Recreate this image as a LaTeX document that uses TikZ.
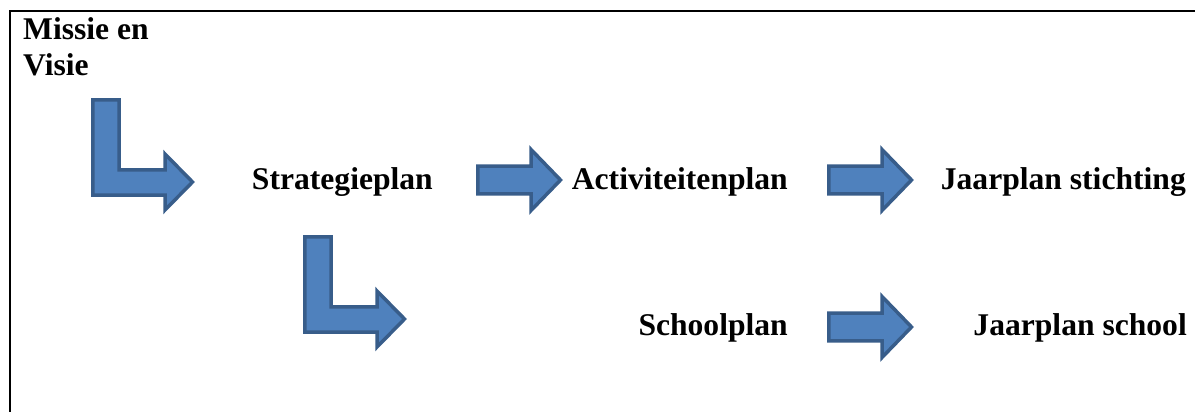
\documentclass[tikz,border=0pt]{standalone}
\usepackage{fontspec}
\setmainfont{Liberation Serif}
\definecolor{arrowfill}{HTML}{4F81BD}
\definecolor{arrowline}{HTML}{385D8A}
\tikzset{
	blockarrow/.style={fill=arrowfill, draw=arrowline, line width=3.5pt, line join=miter},
	plantext/.style={inner sep=0pt, font=\fontsize{31.6}{36}\selectfont\bfseries},
	rightarrow/.pic={\draw[blockarrow] (1.8,-13.8) -- (55,-13.8) -- (55,-30.5) -- (84.5,0) -- (55,30.5) -- (55,13.8) -- (1.8,13.8) -- cycle;},
	bentarrow/.pic={\draw[blockarrow] (1.8,1.8) -- (28.2,1.8) -- (28.2,71.8) -- (74,71.8) -- (74,56) -- (101.5,84) -- (74,112) -- (74,97.2) -- (1.8,97.2) -- cycle;}
}
\begin{document}
\begin{tikzpicture}[x=1pt, y=-1pt]
				\useasboundingbox (0,0) rectangle (1195,412);
				\fill[white] (0,0) rectangle (1195,412);
				\draw[line width=2.2pt] (10,412) -- (10,11) -- (1195,11);
				\node[plantext, anchor=base west, align=left] (missie) at (23,76) {Missie en\\Visie};
				\node[plantext, anchor=base east] (strategie) at (433,189) {Strategieplan};
				\node[plantext, anchor=base east] (activiteiten) at (788,189) {Activiteitenplan};
				\node[plantext, anchor=base east] (jaarstichting) at (1186,189) {Jaarplan stichting};
				\node[plantext, anchor=base east] (school) at (788,335) {Schoolplan};
				\node[plantext, anchor=base east] (jaarschool) at (1187,335) {Jaarplan school};
				\pic at (91,98) {bentarrow};
				\pic at (303,235) {bentarrow};
				\pic at (476,180) {rightarrow};
				\pic at (827,180) {rightarrow};
				\pic at (827,327) {rightarrow};
		\end{tikzpicture}
\end{document}
